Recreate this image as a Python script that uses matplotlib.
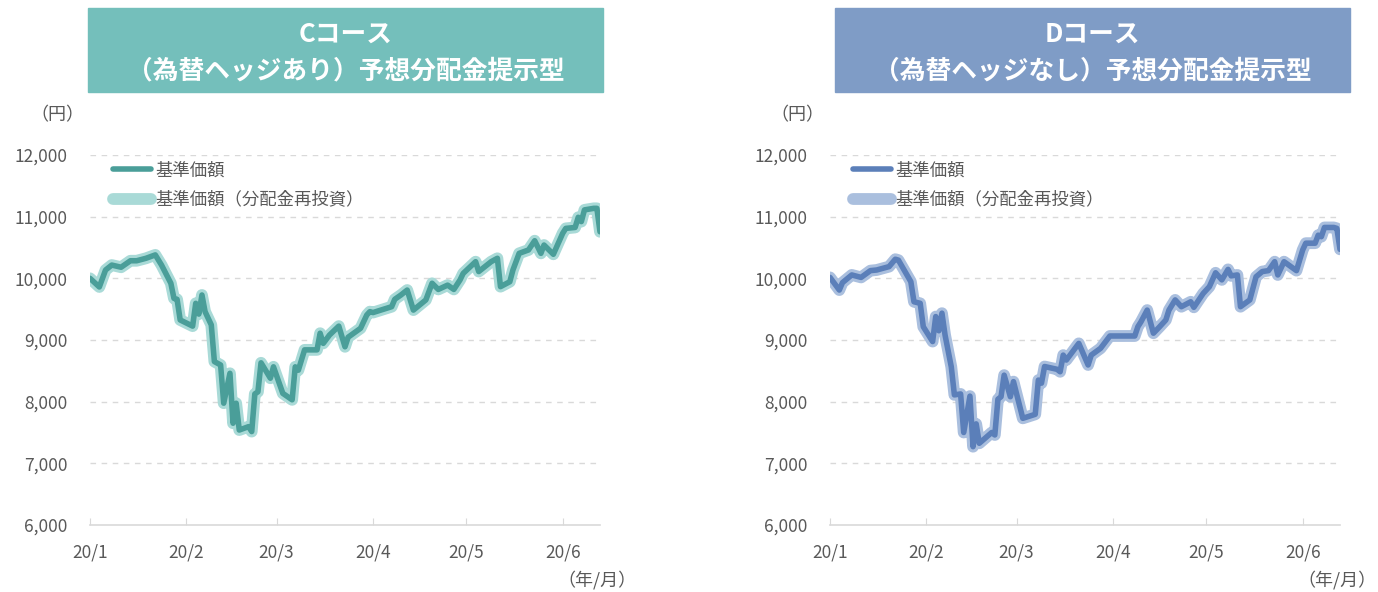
import numpy as np
import pandas as pd
import matplotlib
matplotlib.use("Agg")
import matplotlib.pyplot as plt
import matplotlib.dates as mdates
from matplotlib.patches import Rectangle

plt.rcParams['font.family'] = ['Noto Sans CJK JP', 'DejaVu Sans']

# C course (hedged) - NAV
dates_c = ['2020-01-01', '2020-01-04', '2020-01-06', '2020-01-08', '2020-01-11', '2020-01-14',
           '2020-01-16', '2020-01-19', '2020-01-22', '2020-01-24', '2020-01-27', '2020-01-28',
           '2020-01-29', '2020-01-30', '2020-02-03', '2020-02-04', '2020-02-05', '2020-02-06',
           '2020-02-07', '2020-02-09', '2020-02-10', '2020-02-12', '2020-02-13', '2020-02-15',
           '2020-02-16', '2020-02-17', '2020-02-18', '2020-02-21', '2020-02-22', '2020-02-23',
           '2020-02-24', '2020-02-25', '2020-02-28', '2020-02-29', '2020-03-03', '2020-03-06',
           '2020-03-07', '2020-03-08', '2020-03-10', '2020-03-14', '2020-03-15', '2020-03-16',
           '2020-03-18', '2020-03-21', '2020-03-23', '2020-03-24', '2020-03-28', '2020-03-30',
           '2020-03-31', '2020-04-01', '2020-04-07', '2020-04-08', '2020-04-10', '2020-04-12',
           '2020-04-14', '2020-04-18', '2020-04-19', '2020-04-20', '2020-04-22', '2020-04-25',
           '2020-04-27', '2020-04-29', '2020-04-30', '2020-05-04', '2020-05-05', '2020-05-09',
           '2020-05-11', '2020-05-12', '2020-05-15', '2020-05-16', '2020-05-18', '2020-05-21',
           '2020-05-23', '2020-05-25', '2020-05-26', '2020-05-29', '2020-06-01', '2020-06-02',
           '2020-06-05', '2020-06-06', '2020-06-07', '2020-06-08', '2020-06-11', '2020-06-12',
           '2020-06-13']
nav_c = [10000, 9860, 10135, 10215, 10180, 10285,
         10285, 10325, 10380, 10215, 9920, 9675,
         9660, 9325, 9225, 9595, 9420, 9730,
         9460, 9245, 8650, 8595, 7975, 8460,
         7650, 7975, 7540, 7595, 7515, 8125,
         8160, 8630, 8380, 8565, 8135, 8030,
         8565, 8510, 8840, 8840, 9110, 8945,
         9080, 9225, 8890, 9045, 9190, 9405,
         9460, 9445, 9540, 9660, 9730, 9810,
         9485, 9650, 9785, 9920, 9820, 9890,
         9820, 9975, 10080, 10270, 10110, 10270,
         10325, 9865, 9945, 10135, 10405, 10460,
         10610, 10405, 10540, 10390, 10730, 10810,
         10825, 10990, 10920, 11110, 11135, 11135,
         10755]
# no distributions in the period, so the reinvested line sits on top of the NAV
reinv_c = list(nav_c)

# D course (unhedged)
dates_d = ['2020-01-01', '2020-01-04', '2020-01-05', '2020-01-08', '2020-01-11', '2020-01-14',
           '2020-01-16', '2020-01-20', '2020-01-22', '2020-01-23', '2020-01-27', '2020-01-28',
           '2020-01-30', '2020-01-31', '2020-02-03', '2020-02-04', '2020-02-05', '2020-02-06',
           '2020-02-07', '2020-02-09', '2020-02-10', '2020-02-12', '2020-02-13', '2020-02-15',
           '2020-02-16', '2020-02-17', '2020-02-18', '2020-02-22', '2020-02-23', '2020-02-24',
           '2020-02-25', '2020-02-26', '2020-02-28', '2020-02-29', '2020-03-03', '2020-03-07',
           '2020-03-08', '2020-03-09', '2020-03-10', '2020-03-14', '2020-03-15', '2020-03-16',
           '2020-03-17', '2020-03-21', '2020-03-24', '2020-03-25', '2020-03-28', '2020-03-31',
           '2020-04-08', '2020-04-09', '2020-04-10', '2020-04-12', '2020-04-14', '2020-04-16',
           '2020-04-18', '2020-04-19', '2020-04-21', '2020-04-23', '2020-04-26', '2020-04-27',
           '2020-04-30', '2020-05-02', '2020-05-04', '2020-05-06', '2020-05-08', '2020-05-09',
           '2020-05-11', '2020-05-12', '2020-05-15', '2020-05-17', '2020-05-19', '2020-05-21',
           '2020-05-23', '2020-05-24', '2020-05-26', '2020-05-30', '2020-06-01', '2020-06-02',
           '2020-06-05', '2020-06-06', '2020-06-07', '2020-06-08', '2020-06-11', '2020-06-12',
           '2020-06-13']
nav_d = [10015, 9810, 9930, 10055, 10015, 10125,
         10135, 10190, 10310, 10295, 9945, 9620,
         9595, 9215, 8975, 9380, 9150, 9435,
         9080, 8565, 8110, 8125, 7500, 8090,
         7270, 7640, 7325, 7500, 7460, 8040,
         8080, 8430, 8080, 8325, 7730, 7795,
         8350, 8300, 8570, 8525, 8485, 8755,
         8675, 8945, 8595, 8755, 8865, 9065,
         9065, 9215, 9295, 9485, 9110, 9215,
         9325, 9485, 9650, 9540, 9620, 9530,
         9755, 9865, 10090, 9975, 10145, 10040,
         10055, 9540, 9650, 10025, 10110, 10125,
         10270, 10055, 10270, 10125, 10460, 10570,
         10570, 10700, 10675, 10825, 10825, 10810,
         10470]
reinv_d = list(nav_d)

yticks = [6000, 7000, 8000, 9000, 10000, 11000, 12000]
month_starts = ['2020-01-01', '2020-02-01', '2020-03-01', '2020-04-01', '2020-05-01', '2020-06-01']
month_labels = ['20/1', '20/2', '20/3', '20/4', '20/5', '20/6']
legend_labels = ['基準価額', '基準価額（分配金再投資）']

W, H = 1378, 592
fig = plt.figure(figsize=(W / 100, H / 100), dpi=100)
gray = '#595959'


def panel(left, box_left, dates, nav, reinv, dark, light, box, title2, title1):
    ax = fig.add_axes([left / W, 1 - 525 / H, 510 / W, 370 / H])
    d = pd.to_datetime(dates)
    l2, = ax.plot(d, reinv, color=light, lw=8.5, solid_capstyle='round', solid_joinstyle='round', zorder=3)
    l1, = ax.plot(d, nav, color=dark, lw=4, solid_capstyle='round', solid_joinstyle='round', zorder=4)
    ax.set_ylim(6000, 12000)
    ax.set_xlim(pd.Timestamp('2020-01-01'), pd.Timestamp('2020-06-13'))
    ax.set_yticks(yticks)
    ax.set_yticklabels([f'{v:,}' for v in yticks])
    ax.set_xticks(pd.to_datetime(month_starts))
    ax.set_xticklabels(month_labels)
    for v in yticks[1:]:
        ax.axhline(v, color='#d9d9d9', lw=1, ls=(0, (4, 4)), zorder=1)
    for s in ['top', 'right', 'left']:
        ax.spines[s].set_visible(False)
    ax.spines['bottom'].set_color('#d9d9d9')
    ax.spines['bottom'].set_linewidth(1.2)
    ax.tick_params(axis='x', direction='in', length=5, color='#d9d9d9', labelsize=12.5,
                   labelcolor=gray, pad=13)
    ax.tick_params(axis='y', length=0, labelsize=12.5, labelcolor=gray, pad=16)
    leg = ax.legend([l1, l2], legend_labels, loc='upper left', bbox_to_anchor=(0.015, 1.025),
                    frameon=False, fontsize=12.5, handlelength=2.2, handletextpad=0.2,
                    labelspacing=0.65)
    for t in leg.get_texts():
        t.set_color(gray)
    # title box
    fig.add_artist(Rectangle((box_left / W, 1 - 92 / H), 515 / W, 84 / H,
                             transform=fig.transFigure, color=box, zorder=0))
    cx = (box_left + 515 / 2) / W
    fig.text(cx, 1 - 34 / H, title1, ha='center', va='center', color='white',
             fontsize=18.5, fontweight='bold')
    fig.text(cx, 1 - 71 / H, title2, ha='center', va='center', color='white',
             fontsize=18.5, fontweight='bold')
    fig.text((left - 33) / W, 1 - 115 / H, '（円）', ha='center', va='center', color=gray, fontsize=13)
    fig.text((left + 547) / W, 1 - 580 / H, '（年/月）', ha='right', va='center', color=gray, fontsize=13)
    return ax


panel(90, 88, dates_c, nav_c, reinv_c, '#4a9e99', '#a9dad7', '#74bfbb',
      '（為替ヘッジあり）予想分配金提示型', 'Cコース')
panel(830, 835, dates_d, nav_d, reinv_d, '#5b7fb9', '#aabfde', '#7f9cc6',
      '（為替ヘッジなし）予想分配金提示型', 'Dコース')

fig.savefig('out.png', dpi=100)
